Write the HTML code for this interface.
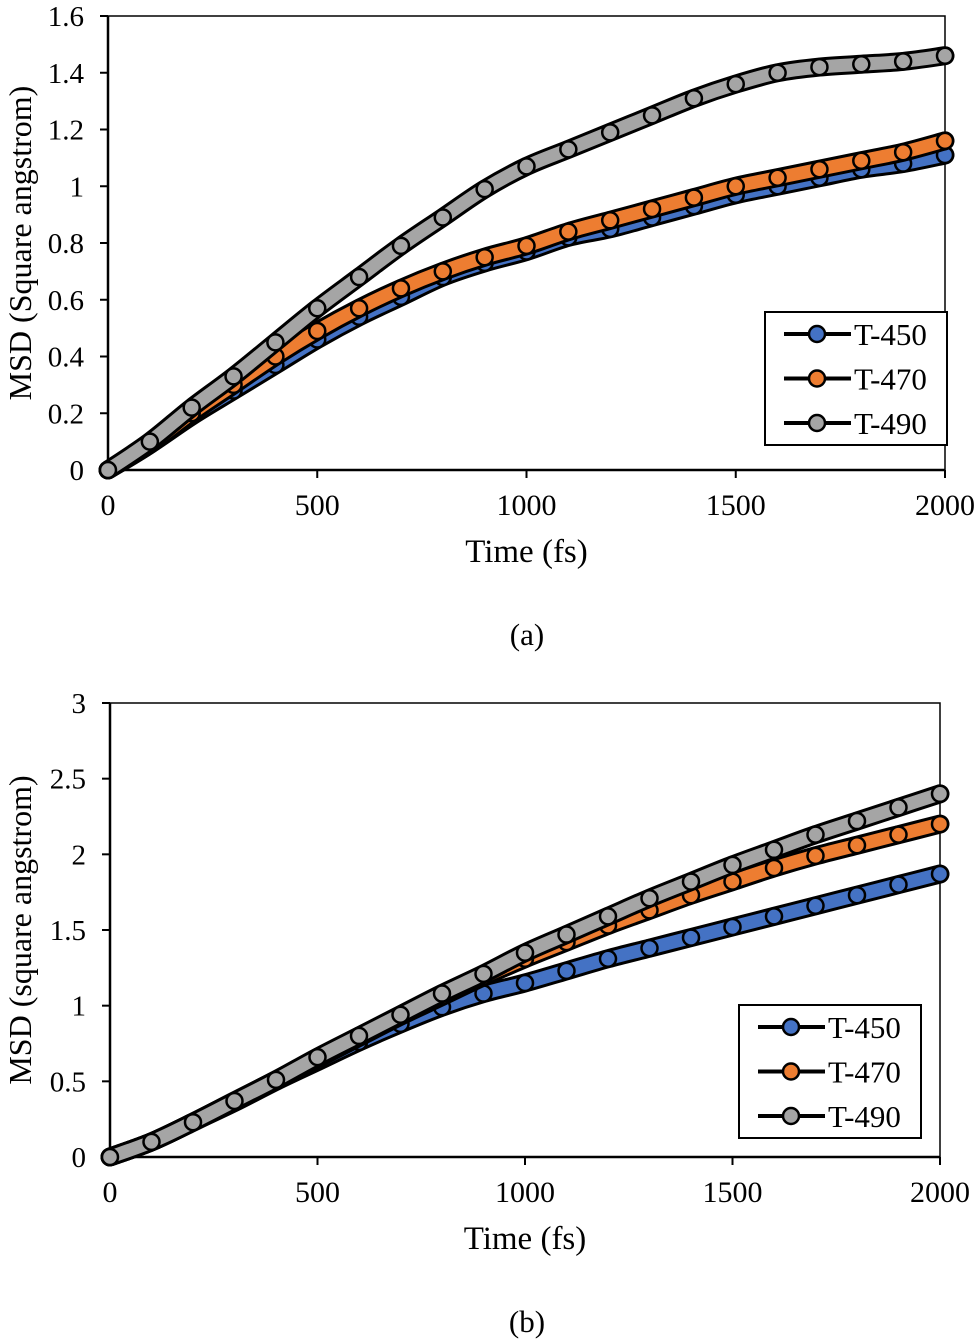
<!DOCTYPE html>
<html><head><meta charset="utf-8"><style>
body{margin:0;background:#fff;}
svg{display:block;font-family:"Liberation Serif",serif;}
</style></head><body>
<svg id="s" width="975" height="1344" viewBox="0 0 975 1344"></svg>
<script>
const times=[0,100,200,300,400,500,600,700,800,900,1000,1100,1200,1300,1400,1500,1600,1700,1800,1900,2000];
const seriesNames=["T-450","T-470","T-490"];
const seriesColors=["#4472c4","#ed7d31","#a5a5a5"];
const aT450=[0,0.09,0.19,0.28,0.37,0.46,0.54,0.61,0.68,0.73,0.77,0.82,0.85,0.89,0.93,0.97,1.00,1.03,1.06,1.08,1.11];
const aT470=[0,0.09,0.20,0.30,0.40,0.49,0.57,0.64,0.70,0.75,0.79,0.84,0.88,0.92,0.96,1.00,1.03,1.06,1.09,1.12,1.16];
const aT490=[0,0.10,0.22,0.33,0.45,0.57,0.68,0.79,0.89,0.99,1.07,1.13,1.19,1.25,1.31,1.36,1.40,1.42,1.43,1.44,1.46];
const bT450=[0,0.10,0.23,0.36,0.50,0.63,0.76,0.88,0.99,1.08,1.15,1.23,1.31,1.38,1.45,1.52,1.59,1.66,1.73,1.80,1.87];
const bT470=[0,0.10,0.23,0.37,0.51,0.65,0.79,0.93,1.06,1.19,1.31,1.42,1.53,1.63,1.73,1.82,1.91,1.99,2.06,2.13,2.20];
const bT490=[0,0.10,0.23,0.37,0.51,0.66,0.80,0.94,1.08,1.21,1.35,1.47,1.59,1.71,1.82,1.93,2.03,2.13,2.22,2.31,2.40];
const xTicks=[0,500,1000,1500,2000];
const aYTicks=["0","0.2","0.4","0.6","0.8","1","1.2","1.4","1.6"];
const bYTicks=["0","0.5","1","1.5","2","2.5","3"];

const NS="http://www.w3.org/2000/svg";
const svg=document.getElementById('s');
function mk(tag,attrs,parent){const e=document.createElementNS(NS,tag);for(const k in attrs)e.setAttribute(k,attrs[k]);(parent||svg).appendChild(e);return e;}
function smooth(p){
  let d='M'+p[0][0]+','+p[0][1];
  for(let i=0;i<p.length-1;i++){
    const p0=p[Math.max(0,i-1)],p1=p[i],p2=p[i+1],p3=p[Math.min(p.length-1,i+2)];
    const c1=[p1[0]+(p2[0]-p0[0])/6,p1[1]+(p2[1]-p0[1])/6];
    const c2=[p2[0]-(p3[0]-p1[0])/6,p2[1]-(p3[1]-p1[1])/6];
    d+=' C'+c1[0]+','+c1[1]+' '+c2[0]+','+c2[1]+' '+p2[0]+','+p2[1];
  }
  return d;
}

function chart(cfg){
  const g=mk('g',{});
  
  
  const X=t=>cfg.x0+t/2000*(cfg.x1-cfg.x0);
  const Y=v=>cfg.y0-v/cfg.ymax*(cfg.y0-cfg.y1);
  const frame=mk('rect',{x:cfg.x0,y:cfg.y1,width:cfg.x1-cfg.x0,height:cfg.y0-cfg.y1,fill:'none',stroke:'#000','stroke-width':1.5},g);
  
  
  mk('line',{x1:cfg.x0,y1:cfg.y0,x2:cfg.x1,y2:cfg.y0,stroke:'#000','stroke-width':2.5},g);
  mk('line',{x1:cfg.x0,y1:cfg.y0,x2:cfg.x0,y2:cfg.y1,stroke:'#000','stroke-width':2.5},g);
  xTicks.forEach(t=>{
    mk('line',{x1:X(t),y1:cfg.y0,x2:X(t),y2:cfg.y0+8,stroke:'#000','stroke-width':2},g);
    const tx=mk('text',{x:X(t),y:cfg.y0+45,'font-size':30,'text-anchor':'middle'},g);
    tx.textContent=t;
    
    
  });
  cfg.yticks.forEach(l=>{
    const v=parseFloat(l);
    mk('line',{x1:cfg.x0-8,y1:Y(v),x2:cfg.x0,y2:Y(v),stroke:'#000','stroke-width':2},g);
    const tx=mk('text',{x:cfg.x0-24,y:Y(v)+10,'font-size':29,'text-anchor':'end'},g);
    tx.textContent=l;
    
    
  });
  const xt=mk('text',{x:(cfg.x0+cfg.x1)/2,y:cfg.y0+92,'font-size':33,'text-anchor':'middle'},g);
  xt.textContent='Time (fs)';
  
  
  const cy=(cfg.y0+cfg.y1)/2;
  const yt=mk('text',{x:0,y:0,'font-size':32,'text-anchor':'middle',transform:`translate(31,${cy}) rotate(-90)`},g);
  yt.textContent=cfg.ytitle;
  
  
  cfg.series.forEach((vals,i)=>{
    const sg=mk('g',{},g);
    
    
    const d=smooth(vals.map((v,j)=>[X(times[j]),Y(v)]));
    mk('path',{d:d,fill:'none',stroke:'#000','stroke-width':19,'stroke-linejoin':'round','stroke-linecap':'round'},sg);
    mk('path',{d:d,fill:'none',stroke:seriesColors[i],'stroke-width':13,'stroke-linejoin':'round','stroke-linecap':'round'},sg);
    vals.forEach((v,j)=>{
      const c=mk('circle',{cx:X(times[j]),cy:Y(v),r:8,fill:seriesColors[i],stroke:'#000','stroke-width':2.5},sg);
      
      
    });
  });
  const lg=mk('g',{},g);
  
  
  mk('rect',{x:cfg.lx,y:cfg.ly,width:182,height:133,fill:'#fff',stroke:'#000','stroke-width':2},lg);
  seriesNames.forEach((n,i)=>{
    const yy=cfg.ly+22+i*44.5;
    const e=mk('g',{},lg);
    
    
    mk('line',{x1:cfg.lx+19,y1:yy,x2:cfg.lx+86,y2:yy,stroke:'#000','stroke-width':4},e);
    mk('circle',{cx:cfg.lx+52,cy:yy,r:8,fill:seriesColors[i],stroke:'#000','stroke-width':2.5},e);
    const t=mk('text',{x:cfg.lx+89,y:yy+11,'font-size':31},e);
    t.textContent=n;
  });
  const cap=mk('text',{x:cfg.capx,y:cfg.capy,'font-size':31,'text-anchor':'middle'},g);
  cap.textContent=cfg.cap;
  
  
}
chart({name:'chart-a',x0:108,x1:945,y0:470,y1:16,ymax:1.6,yticks:aYTicks,ytitle:'MSD (Square angstrom)',series:[aT450,aT470,aT490],lx:765,ly:312,cap:'(a)',capx:527,capy:645});
chart({name:'chart-b',x0:110,x1:940,y0:1157,y1:703,ymax:3,yticks:bYTicks,ytitle:'MSD (square angstrom)',series:[bT450,bT470,bT490],lx:739,ly:1005,cap:'(b)',capx:527,capy:1332});
</script>
</body></html>
